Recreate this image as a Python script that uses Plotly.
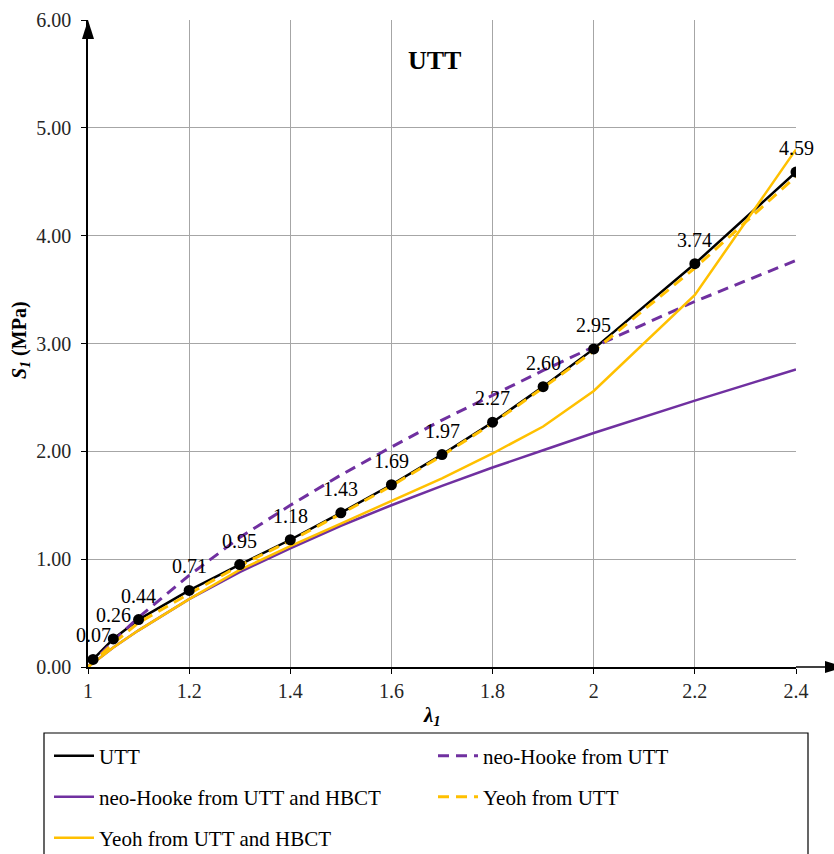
import plotly.graph_objects as go

# ---------------- data ----------------
lam_utt = [1.01, 1.05, 1.1, 1.2, 1.3, 1.4, 1.5, 1.6, 1.7, 1.8, 1.9, 2.0, 2.2, 2.4]
s_utt = [0.07, 0.26, 0.44, 0.71, 0.95, 1.18, 1.43, 1.69, 1.97, 2.27, 2.60, 2.95, 3.74, 4.59]

lam_model = [1.0, 1.05, 1.1, 1.2, 1.3, 1.4, 1.5, 1.6, 1.7, 1.8, 1.9, 2.0, 2.2, 2.4]
nh_utt = [0.00, 0.24, 0.46, 0.85, 1.20, 1.50, 1.78, 2.04, 2.29, 2.52, 2.75, 2.97, 3.39, 3.77]
nh_hbct = [0.00, 0.18, 0.34, 0.63, 0.88, 1.10, 1.31, 1.50, 1.68, 1.85, 2.01, 2.17, 2.47, 2.76]
yeoh_utt = [0.00, 0.22, 0.41, 0.68, 0.94, 1.17, 1.42, 1.68, 1.96, 2.26, 2.59, 2.93, 3.70, 4.55]
yeoh_hbct = [0.00, 0.18, 0.34, 0.63, 0.90, 1.12, 1.33, 1.54, 1.75, 1.98, 2.23, 2.56, 3.45, 4.80]

x_ticks = [1, 1.2, 1.4, 1.6, 1.8, 2, 2.2, 2.4]
x_ticklabels = ["1", "1.2", "1.4", "1.6", "1.8", "2", "2.2", "2.4"]
y_ticks = [0, 1, 2, 3, 4, 5, 6]
y_ticklabels = ["0.00", "1.00", "2.00", "3.00", "4.00", "5.00", "6.00"]

PURPLE = "#7030A0"
YELLOW = "#FFC000"
FONT = "Liberation Serif"
DASH = "11px,7px"

W, H = 834, 854
ML, MR, MT, MB = 88, 38, 20, 187
PW, PH = W - ML - MR, H - MT - MB


def px(xp):
    return (xp - ML) / PW


def py(yp):
    return (H - MB - yp) / PH


fig = go.Figure()

fig.add_trace(go.Scatter(x=lam_utt, y=s_utt, mode="lines", name="UTT",
                         line=dict(color="black", width=2.5), legend="legend"))
fig.add_trace(go.Scatter(x=lam_model, y=nh_utt, mode="lines", name="neo-Hooke from UTT",
                         line=dict(color=PURPLE, width=3, dash=DASH), legend="legend2"))
fig.add_trace(go.Scatter(x=lam_model, y=nh_hbct, mode="lines", name="neo-Hooke from UTT and HBCT",
                         line=dict(color=PURPLE, width=2.5), legend="legend3"))
fig.add_trace(go.Scatter(x=lam_model, y=yeoh_utt, mode="lines", name="Yeoh from UTT",
                         line=dict(color=YELLOW, width=3, dash=DASH), legend="legend4"))
fig.add_trace(go.Scatter(x=lam_model, y=yeoh_hbct, mode="lines", name="Yeoh from UTT and HBCT",
                         line=dict(color=YELLOW, width=2.5), legend="legend5"))
# UTT markers on top
fig.add_trace(go.Scatter(x=lam_utt, y=s_utt, mode="markers", name="UTT points", showlegend=False,
                         marker=dict(color="black", size=11)))

# data labels
for xv, yv in zip(lam_utt, s_utt):
    fig.add_annotation(x=xv, y=yv, text=f"{yv:.2f}", showarrow=False, yshift=24,
                       font=dict(family=FONT, size=20, color="black"))

# title and axis titles
fig.add_annotation(xref="paper", yref="paper", x=px(434), y=py(60), text="<b>UTT</b>",
                   xanchor="center", yanchor="middle",
                   showarrow=False, font=dict(family=FONT, size=26, color="black"))
fig.add_annotation(xref="paper", yref="paper", x=px(21), y=py(340),
                   text="<b><i>S<sub>1</sub></i> (MPa)</b>", textangle=-90,
                   xanchor="center", yanchor="middle",
                   showarrow=False, font=dict(family=FONT, size=20, color="black"))
fig.add_annotation(xref="paper", yref="paper", x=px(432), y=py(716),
                   text="<b><i>λ<sub>1</sub></i></b>",
                   xanchor="center", yanchor="middle",
                   showarrow=False, font=dict(family=FONT, size=21, color="black"))

# axis extension and arrowheads
fig.add_shape(type="line", xref="paper", yref="paper", x0=1, x1=px(828), y0=0, y1=0,
              line=dict(color="black", width=1.5))
fig.add_shape(type="path", xref="paper", yref="paper",
              path=f"M {px(825)},{py(661)} L {px(844)},{py(667)} L {px(825)},{py(673)} Z",
              fillcolor="black", line=dict(color="black", width=0))
fig.add_shape(type="path", xref="paper", yref="paper",
              path=f"M {px(82)},{py(39)} L {px(88)},{py(20)} L {px(94)},{py(39)} Z",
              fillcolor="black", line=dict(color="black", width=0))

# legend frame
fig.add_shape(type="rect", xref="paper", yref="paper", x0=px(44), x1=px(808), y0=py(733), y1=py(880),
              line=dict(color="black", width=1.2), fillcolor="rgba(0,0,0,0)")

leg_common = dict(orientation="h", xanchor="left", yanchor="middle", bgcolor="rgba(0,0,0,0)",
                  borderwidth=0, itemwidth=40,
                  font=dict(family=FONT, size=21, color="black"))

fig.update_layout(
    width=W, height=H,
    margin=dict(l=ML, r=MR, t=MT, b=MB, pad=0, autoexpand=False),
    paper_bgcolor="white", plot_bgcolor="white",
    font=dict(family=FONT, size=20, color="black"),
    showlegend=True,
    legend=dict(x=px(49), y=py(756), **leg_common),
    legend2=dict(x=px(433), y=py(756), **leg_common),
    legend3=dict(x=px(49), y=py(797), **leg_common),
    legend4=dict(x=px(433), y=py(797), **leg_common),
    legend5=dict(x=px(49), y=py(838), **leg_common),
    xaxis=dict(range=[1, 2.4], tickvals=x_ticks, ticktext=x_ticklabels,
               showgrid=True, gridcolor="#A6A6A6", gridwidth=1,
               showline=True, linecolor="black", linewidth=1.5,
               ticks="outside", ticklen=5, tickcolor="black", tickwidth=1,
               ticklabelstandoff=0,
               zeroline=False, tickfont=dict(family=FONT, size=20, color="#262626")),
    yaxis=dict(range=[0, 6], tickvals=y_ticks, ticktext=y_ticklabels,
               showgrid=True, gridcolor="#A6A6A6", gridwidth=1,
               showline=True, linecolor="black", linewidth=1.5,
               ticks="outside", ticklen=5, tickcolor="black", tickwidth=1,
               ticklabelstandoff=6,
               zeroline=False, tickfont=dict(family=FONT, size=20, color="#262626")),
)

fig.write_html("out.html")
